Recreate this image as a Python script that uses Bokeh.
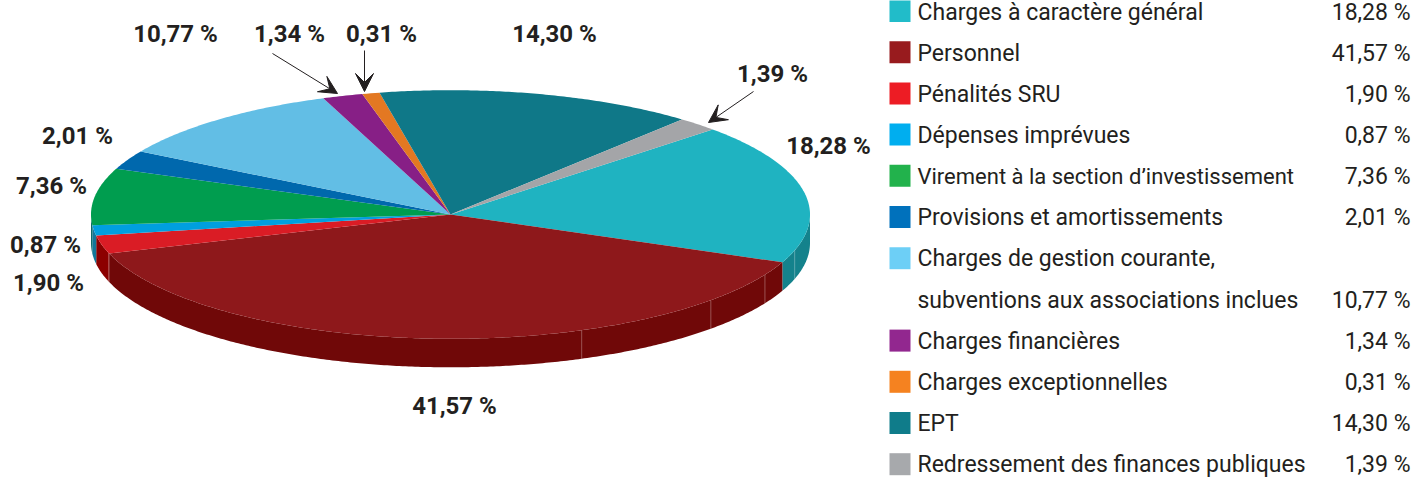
import math
from bokeh.embed import file_html
from bokeh.models import Arrow, VeeHead, Range1d
from bokeh.plotting import figure
from bokeh.resources import INLINE
from bokeh.core.properties import value

# ---- data ----
categories = ["Charges à caractère général", "Personnel", "Pénalités SRU", "Dépenses imprévues",
              "Virement à la section d’investissement", "Provisions et amortissements",
              "Charges de gestion courante,\nsubventions aux associations inclues",
              "Charges financières", "Charges exceptionnelles", "EPT",
              "Redressement des finances publiques"]
shares = [18.28, 41.57, 1.90, 0.87, 7.36, 2.01, 10.77, 1.34, 0.31, 14.30, 1.39]
top_colors = ["#1fb3c1", "#8e181b", "#da1c25", "#009fdf", "#009d4f", "#0068ad",
              "#62bee5", "#871f86", "#e37822", "#0f7888", "#a4a5a8"]
side_colors = ["#14828c", "#700808", "#8c0000", "#12789a", "#0d6a6a", "#0d6a6a",
               "#0d6a6a", "#0d6a6a", "#0d6a6a", "#0d6a6a", "#0d6a6a"]
swatch_colors = ["#21bcc9", "#981b1e", "#ed1c24", "#00aeef", "#22b24c", "#0071bc",
                 "#6dcff6", "#92278f", "#f58220", "#0f7c8a", "#a7a9ac"]

# ---- layout ----
CX, CY, RX, RY, DEPTH = 450, 214, 359.5, 124.3, 28.5
START = 43.2           # degrees, start of first slice; slices run clockwise
SMALL_LIMIT, SMALL_BOOST = 3.0, 1.7   # tiny slices are drawn wider, at the expense of the largest
FONT = "Roboto"
LEGEND_SIZE = 23
WIDE_LINE_SIZE = 22    # the longest legend line is set a little tighter in the reference
label_pos = [(828, 145), (454, 405), (48, 282), (45, 244), (51, 185), (77, 135),
             (175, 33), (289, 33), (381, 33), (554, 33), (772, 73)]
arrows = {7: (272, 53, 337, 93), 8: (364, 50, 364, 91), 10: (753, 91, 708, 122)}
seam_angles = [-16.8, -29, -43.6, -68.6, -162]
legend_top, legend_step = 11.5, 41.15
swatch_top, swatch_step = 10.5, 41.2

fmt = lambda v: f"{v:.2f} %".replace(".", ",")


def pt(a, dy=0.0):
    r = math.radians(a)
    return CX + RX * math.cos(r), CY - RY * math.sin(r) + dy


def arc(a0, a1, dy=0.0, n=None):
    n = n or max(2, int(abs(a1 - a0)) * 2)
    return [pt(a0 + (a1 - a0) * i / n, dy) for i in range(n + 1)]


widths = [s * 3.6 + (SMALL_BOOST if s < SMALL_LIMIT else 0) for s in shares]
big = shares.index(max(shares))
widths[big] -= sum(widths) - 360

edges = []
a = START
for w in widths:
    edges.append((a - w, a))
    a -= w

p = figure(width=1414, height=478, x_range=Range1d(0, 1414), y_range=Range1d(478, 0),
           toolbar_location=None, output_backend="svg", min_border=0,
           outline_line_color=None, background_fill_color="white",
           styles={"position": "absolute", "left": "0", "top": "0"})
p.axis.visible = False
p.grid.visible = False

# side wall: only the part facing the viewer (180..360 degrees)
for i, (a0, a1) in enumerate(edges):
    for shift in (0, 360, -360):
        lo, hi = max(a0 + shift, 180), min(a1 + shift, 360)
        if lo < hi:
            top = arc(lo, hi)
            bot = arc(hi, lo, DEPTH)
            pts = top + bot
            p.patch([q[0] for q in pts], [q[1] for q in pts], fill_color=side_colors[i], line_color=None)

# seams on the wall
for s in seam_angles:
    x0, y0 = pt(s)
    x1, y1 = pt(s, DEPTH)
    p.line([x0, x1], [y0, y1], line_color="#ffffff", line_alpha=0.3, line_width=1)

# top faces
for i, (a0, a1) in enumerate(edges):
    pts = [(CX, CY)] + arc(a0, a1)
    p.patch([q[0] for q in pts], [q[1] for q in pts], fill_color=top_colors[i], line_color=None)

# slice labels
for i, s in enumerate(shares):
    p.text([label_pos[i][0]], [label_pos[i][1]], text=[fmt(s)], text_font=value(FONT),
           text_font_style="bold", text_font_size="24px", text_color="#231f20",
           text_align="center", text_baseline="middle")

# arrows
for k, (x0, y0, x1, y1) in arrows.items():
    p.add_layout(Arrow(end=VeeHead(size=18, fill_color="#231f20", line_color="#231f20", line_width=1),
                       x_start=x0, y_start=y0, x_end=x1, y_end=y1, line_color="#231f20", line_width=1))

# legend
longest = max((ln for c in categories for ln in c.split("\n")), key=len)
row = 0
for i, cat in enumerate(categories):
    sy = swatch_top + row * swatch_step
    p.quad(left=[889], right=[910], top=[sy - 11], bottom=[sy + 11], fill_color=swatch_colors[i], line_color=None)
    for ln in cat.split("\n"):
        y = legend_top + row * legend_step
        size = WIDE_LINE_SIZE if ln == longest else LEGEND_SIZE
        p.text([917], [y], text=[ln], text_font=value(FONT), text_font_size=f"{size}px",
               text_color="#231f20", text_align="left", text_baseline="middle")
        row += 1
    p.text([1410], [y], text=[fmt(shares[i])], text_font=value(FONT), text_font_size=f"{LEGEND_SIZE}px",
           text_color="#231f20", text_align="right", text_baseline="middle")

open("out.html", "w").write(file_html(p, INLINE))
